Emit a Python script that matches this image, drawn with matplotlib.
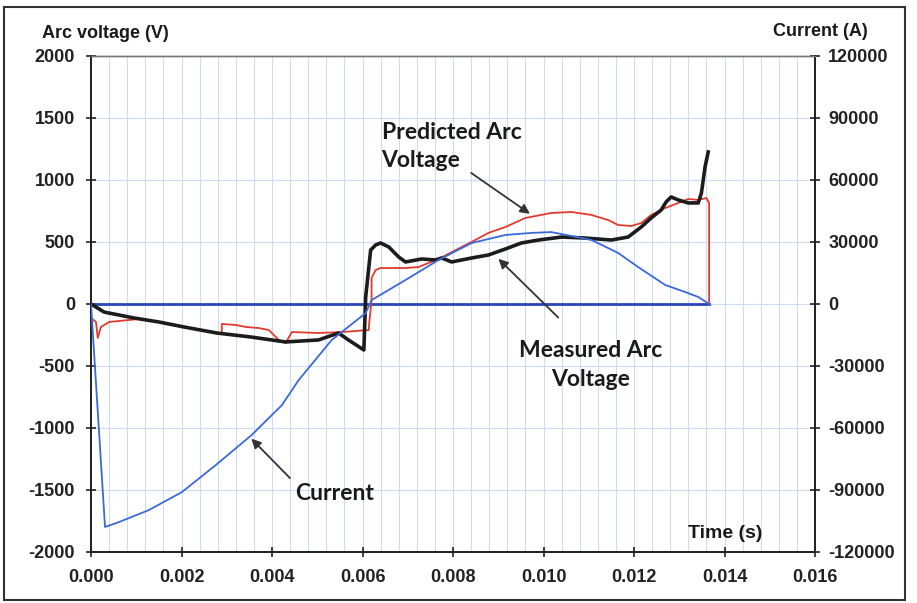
import matplotlib
matplotlib.use("Agg")
import matplotlib.pyplot as plt
from matplotlib.patches import Rectangle
import numpy as np

# ---- data (time in s, voltage in V, current in A) ----
current_t = [0.0, 0.00031, 0.00062, 0.00128, 0.00201, 0.00276, 0.00355, 0.00422,
             0.00459, 0.00532, 0.00607, 0.0062, 0.00695, 0.00768, 0.00841, 0.00916,
             0.00973, 0.01017, 0.01062, 0.01106, 0.01165, 0.01209, 0.01269, 0.01313,
             0.01342, 0.01366]
current_a = [0, -107900, -105500, -99700, -91000, -77900, -63400, -48900,
             -36800, -17400, -4400, 1900, 11600, 21300, 29500, 33400,
             34400, 34800, 32900, 31000, 24700, 17900, 9200, 5800,
             3400, 0]

measured_t = [0.0, 0.00029, 0.00095, 0.0015, 0.00205, 0.00278, 0.00353, 0.0043,
              0.00503, 0.00547, 0.00569, 0.00603, 0.00607, 0.00618, 0.00629, 0.0064,
              0.00658, 0.0068, 0.00695, 0.00731, 0.00761, 0.00775, 0.00797, 0.00841,
              0.00878, 0.00916, 0.00951, 0.00989, 0.0104, 0.01092, 0.0115, 0.01187,
              0.01216, 0.01238, 0.0126, 0.01271, 0.01282, 0.01298, 0.0132, 0.01342,
              0.01349, 0.01357, 0.01364]
measured_v = [0, -65, -113, -145, -185, -234, -266, -306,
              -290, -234, -290, -371, 56, 435, 476, 492,
              460, 379, 339, 363, 355, 371, 339, 371,
              395, 444, 492, 516, 540, 532, 516, 540,
              621, 694, 758, 823, 863, 839, 815, 815,
              895, 1105, 1226]

predicted_t = [0.0, 0.00011, 0.00015, 0.00022, 0.0004, 0.00106, 0.0015, 0.00205,
               0.00278, 0.00289, 0.00289, 0.0032, 0.00342, 0.00371, 0.00393, 0.00415,
               0.0043, 0.00444, 0.00503, 0.00554, 0.00614, 0.00614, 0.0062, 0.0062,
               0.00629, 0.0064, 0.00695, 0.00724, 0.00746, 0.00768, 0.00806, 0.00841,
               0.00878, 0.00916, 0.0096, 0.01017, 0.01062, 0.01106, 0.01143, 0.01165,
               0.01194, 0.01216, 0.01238, 0.01269, 0.01298, 0.0132, 0.01342, 0.0136,
               0.01366, 0.01366]
predicted_v = [-113, -145, -274, -185, -145, -121, -145, -185,
               -234, -234, -161, -169, -185, -194, -210, -290,
               -315, -226, -234, -226, -210, -185, 32, 210,
               274, 290, 290, 298, 331, 363, 435, 500,
               573, 621, 694, 734, 742, 718, 677, 637,
               629, 653, 718, 774, 815, 847, 839, 855,
               815, 0]

zero_t = [0.0, 0.01366]
zero_v = [0, 0]

x_ticks = [0.000, 0.002, 0.004, 0.006, 0.008, 0.010, 0.012, 0.014, 0.016]
v_ticks = [-2000, -1500, -1000, -500, 0, 500, 1000, 1500, 2000]
a_ticks = [-120000, -90000, -60000, -30000, 0, 30000, 60000, 90000, 120000]

W, H = 917, 603
fig = plt.figure(figsize=(W / 100, H / 100), dpi=100)
fig.patch.set_facecolor("white")

ax = fig.add_axes([91 / W, 1 - 552 / H, (815 - 91) / W, (552 - 56) / H])
ax2 = ax.twinx()

tick_font = dict(family=["Liberation Sans", "DejaVu Sans"], size=13, weight="bold",
                 color="#1a1a1a")
label_font = dict(family=["Lato", "DejaVu Sans"], size=16.5, weight="bold",
                  color="#1a1a1a")

# grid
grid_col = "#cddcf2"
for xv in np.arange(0.0004, 0.0161, 0.0004):
    ax.axvline(xv, color=grid_col, lw=0.8, zorder=0)
for yv in v_ticks[1:-1]:
    ax.axhline(yv, color=grid_col, lw=0.8, zorder=0)

ax.set_xlim(0, 0.016)
ax.set_ylim(-2000, 2000)
ax2.set_ylim(-120000, 120000)

ax.plot(zero_t, zero_v, color="#2846b8", lw=2.0, zorder=3)
ax.plot(predicted_t, predicted_v, color="#e23a2e", lw=1.3, zorder=4)
ax.plot(measured_t, measured_v, color="#1c1c1c", lw=2.6, zorder=5)
ax2.plot(current_t, current_a, color="#3a6ad8", lw=1.3, zorder=4)

ax.set_xticks(x_ticks)
ax.set_xticklabels([f"{v:.3f}" for v in x_ticks], **tick_font)
ax.set_yticks(v_ticks)
ax.set_yticklabels([str(v) for v in v_ticks], **tick_font)
ax2.set_yticks(a_ticks)
ax2.set_yticklabels([str(v) for v in a_ticks], **tick_font)

for a in (ax, ax2):
    a.tick_params(direction="inout", length=7, width=1.2, colors="#222222")
    for s in a.spines.values():
        s.set_color("#222222")
        s.set_linewidth(1.3)
    a.spines["top"].set_color("#777777")
    a.spines["top"].set_linewidth(1.0)
ax.tick_params(axis="x", pad=9)
ax.tick_params(axis="y", pad=8)
ax2.tick_params(axis="y", pad=6)

# axis titles
fig.text(42 / W, 1 - 33 / H, "Arc voltage (V)", ha="left", va="center", **tick_font)
fig.text(868 / W, 1 - 32 / H, "Current (A)", ha="right", va="center", **tick_font)
ax.text(0.01402, -1850, "Time (s)", ha="center", va="center",
        family=["Liberation Sans", "DejaVu Sans"], size=14, weight="bold",
        color="#1a1a1a")

# annotations
arrow = dict(arrowstyle="-|>", color="#333333", lw=1.3, mutation_scale=14)
ax.text(0.00642, 1270, "Predicted Arc\nVoltage", ha="left", va="center",
        linespacing=1.45, **label_font)
ax.annotate("", xy=(0.00975, 715), xytext=(0.00835, 1070), arrowprops=arrow)

ax.text(0.01104, -492, "Measured Arc\nVoltage", ha="center", va="center",
        linespacing=1.45, **label_font)
ax.annotate("", xy=(0.00896, 380), xytext=(0.01037, -125), arrowprops=arrow)

ax.text(0.00452, -1532, "Current", ha="left", va="center", **label_font)
ax.annotate("", xy=(0.00350, -1070), xytext=(0.00444, -1420), arrowprops=arrow)

# outer frame
fig.patches.append(Rectangle((4 / W, 3 / H), (905 - 4) / W, (598 - 5) / H,
                             transform=fig.transFigure, fill=False,
                             edgecolor="#333333", lw=1.5))

fig.savefig("out.png", dpi=100, facecolor="white")
